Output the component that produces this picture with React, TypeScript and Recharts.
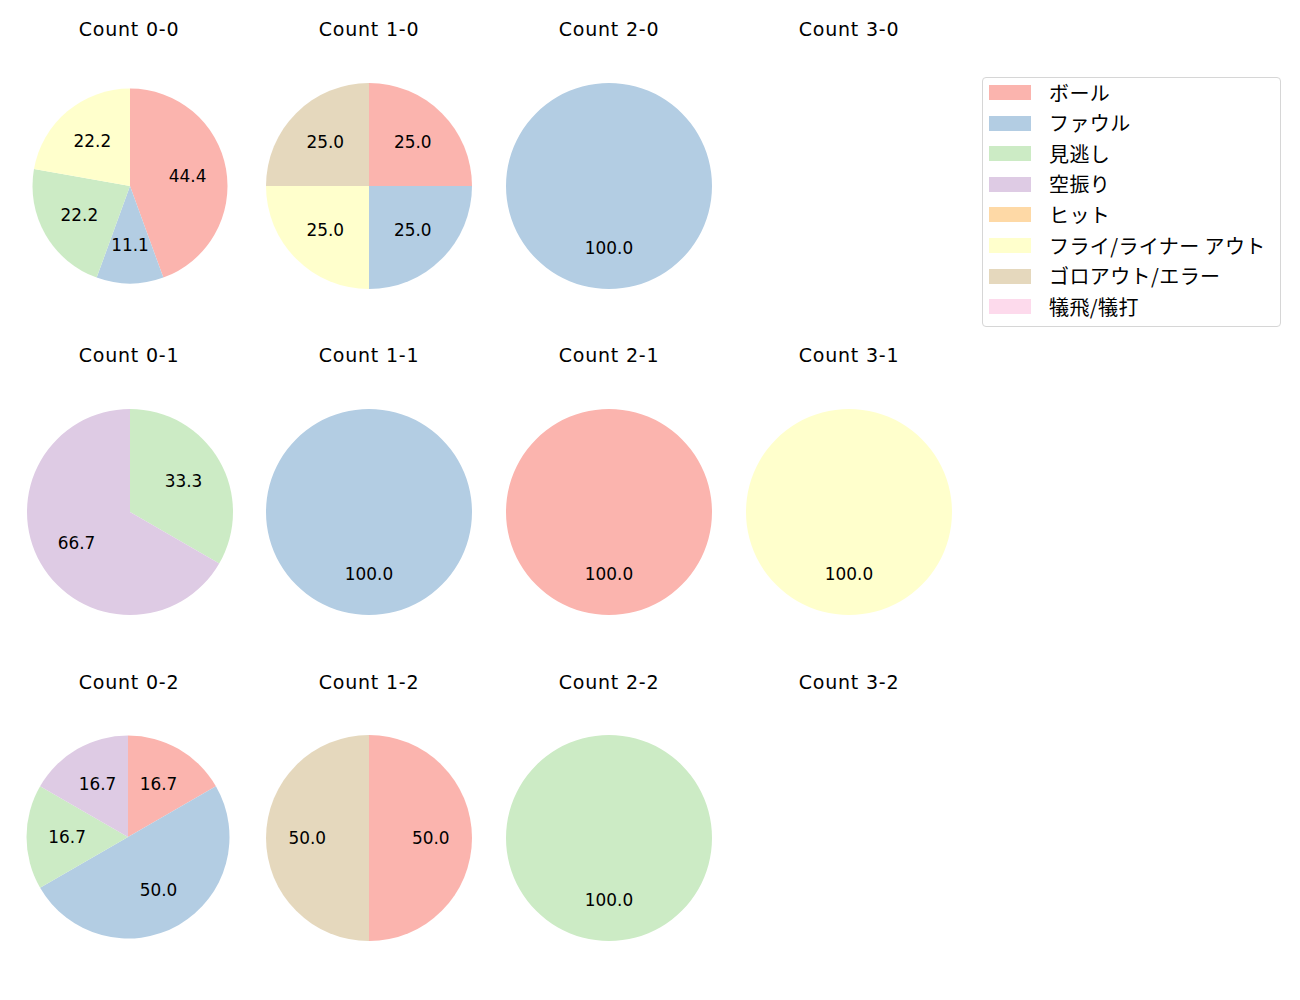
import React from "react";
import { PieChart, Pie, Cell } from "recharts";

const CATEGORIES = [
  "ボール",
  "ファウル",
  "見逃し",
  "空振り",
  "ヒット",
  "フライ/ライナー アウト",
  "ゴロアウト/エラー",
  "犠飛/犠打",
];

const COLORS = ["#fbb4ae", "#b3cde3", "#ccebc5", "#decbe4", "#fed9a6", "#ffffcc", "#e5d8bd", "#fddaec"];

// counts per category, same order as CATEGORIES
const COUNT_0_0 = [4, 1, 2, 0, 0, 2, 0, 0];
const COUNT_1_0 = [1, 1, 0, 0, 0, 1, 1, 0];
const COUNT_2_0 = [0, 1, 0, 0, 0, 0, 0, 0];
const COUNT_3_0: number[] = [];
const COUNT_0_1 = [0, 0, 1, 2, 0, 0, 0, 0];
const COUNT_1_1 = [0, 1, 0, 0, 0, 0, 0, 0];
const COUNT_2_1 = [1, 0, 0, 0, 0, 0, 0, 0];
const COUNT_3_1 = [0, 0, 0, 0, 0, 1, 0, 0];
const COUNT_0_2 = [1, 3, 1, 1, 0, 0, 0, 0];
const COUNT_1_2 = [1, 0, 0, 0, 0, 0, 1, 0];
const COUNT_2_2 = [0, 0, 1, 0, 0, 0, 0, 0];
const COUNT_3_2: number[] = [];

const FONT = "'DejaVu Sans', 'Noto Sans CJK JP', sans-serif";
const JP_FONT = "'Noto Sans CJK JP', 'DejaVu Sans', sans-serif";

const PANELS = [
  { title: "Count 0-0", values: COUNT_0_0, x: 129.5, y: 185.5, r: 97.5 },
  { title: "Count 1-0", values: COUNT_1_0, x: 369, y: 186, r: 103 },
  { title: "Count 2-0", values: COUNT_2_0, x: 609, y: 186, r: 103 },
  { title: "Count 3-0", values: COUNT_3_0, x: 849, y: 186, r: 103 },
  { title: "Count 0-1", values: COUNT_0_1, x: 129.5, y: 512, r: 103 },
  { title: "Count 1-1", values: COUNT_1_1, x: 369, y: 512, r: 103 },
  { title: "Count 2-1", values: COUNT_2_1, x: 609, y: 512, r: 103 },
  { title: "Count 3-1", values: COUNT_3_1, x: 848.5, y: 512, r: 103 },
  { title: "Count 0-2", values: COUNT_0_2, x: 127.5, y: 837, r: 101.5 },
  { title: "Count 1-2", values: COUNT_1_2, x: 369, y: 838, r: 103 },
  { title: "Count 2-2", values: COUNT_2_2, x: 609, y: 838, r: 103 },
  { title: "Count 3-2", values: COUNT_3_2, x: 849, y: 838, r: 103 },
];

const TITLE_Y = [29, 355, 682];
const COL_X = [129, 369, 609, 849];

const RAD = Math.PI / 180;

function renderLabel(props: any) {
  const { cx, cy, midAngle, outerRadius, percent } = props;
  const d = outerRadius * 0.6;
  const x = cx + d * Math.cos(-midAngle * RAD);
  const y = cy + d * Math.sin(-midAngle * RAD);
  return (
    <text
      x={x}
      y={y}
      textAnchor="middle"
      dominantBaseline="central"
      fill="#000"
      fontSize={16.9}
      fontFamily={FONT}
    >
      {(percent * 100).toFixed(1)}
    </text>
  );
}

const SIZE = 240;

function Panel({ panel, index }: { panel: (typeof PANELS)[number]; index: number }) {
  const data = panel.values
    .map((v, i) => ({ name: CATEGORIES[i], value: v, color: COLORS[i] }))
    .filter((d) => d.value > 0);
  const row = Math.floor(index / 4);
  const col = index % 4;
  return (
    <>
      <div
        style={{
          position: "absolute",
          left: COL_X[col] - 100,
          width: 200,
          top: TITLE_Y[row] - 12,
          height: 24,
          lineHeight: "24px",
          textAlign: "center",
          fontSize: 19,
          letterSpacing: 0.8,
          fontFamily: FONT,
          color: "#000",
        }}
      >
        {panel.title}
      </div>
      {data.length > 0 && (
        <div style={{ position: "absolute", left: panel.x - SIZE / 2, top: panel.y - SIZE / 2 }}>
          <PieChart width={SIZE} height={SIZE} margin={{ top: 0, right: 0, bottom: 0, left: 0 }}>
            <Pie
              data={data}
              dataKey="value"
              nameKey="name"
              cx={SIZE / 2}
              cy={SIZE / 2}
              outerRadius={panel.r}
              startAngle={90}
              endAngle={-270}
              stroke="none"
              label={renderLabel}
              labelLine={false}
              isAnimationActive={false}
            >
              {data.map((d, i) => (
                <Cell key={`cell-${i}`} fill={d.color} />
              ))}
            </Pie>
          </PieChart>
        </div>
      )}
    </>
  );
}

function Legend() {
  return (
    <div
      style={{
        position: "absolute",
        left: 982,
        top: 77,
        width: 297,
        height: 248,
        border: "1px solid #d6d6d6",
        borderRadius: 4,
        background: "#fff",
        fontFamily: JP_FONT,
        fontSize: 20,
        color: "#000",
      }}
    >
      {CATEGORIES.map((c, i) => (
        <div
          key={c}
          style={{ position: "absolute", left: 0, top: 14.5 + i * 30.6 - 13, height: 26, display: "flex", alignItems: "center" }}
        >
          <div style={{ marginLeft: 6, width: 42, height: 15, background: COLORS[i] }} />
          <div style={{ marginLeft: 18, lineHeight: "26px", whiteSpace: "nowrap", letterSpacing: 0.4 }}>{c}</div>
        </div>
      ))}
    </div>
  );
}

export default function App() {
  return (
    <div style={{ position: "absolute", left: 0, top: 0, width: 1300, height: 1000, background: "#fff" }}>
      {PANELS.map((p, i) => (
        <Panel key={p.title} panel={p} index={i} />
      ))}
      <Legend />
    </div>
  );
}
